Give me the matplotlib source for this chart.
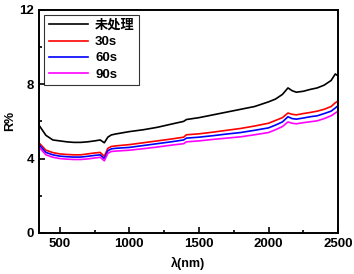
import matplotlib
matplotlib.use("Agg")
import matplotlib.pyplot as plt
from matplotlib.ticker import MultipleLocator

# wavelength (nm) and reflectance (%)
wl = [350, 400, 450, 500, 550, 600, 650, 700, 750, 790, 820, 845, 870, 900, 1000,
      1100, 1200, 1300, 1390, 1410, 1500, 1600, 1700, 1800, 1900, 2000, 2050,
      2100, 2140, 2170, 2200, 2250, 2300, 2350, 2400, 2450, 2480, 2500]
r_untreated = [5.8, 5.25, 5.0, 4.95, 4.9, 4.87, 4.87, 4.9, 4.95, 5.0, 4.85, 5.15, 5.27, 5.32, 5.45,
               5.55, 5.68, 5.85, 6.0, 6.1, 6.2, 6.35, 6.5, 6.65, 6.8, 7.05, 7.2,
               7.45, 7.8, 7.65, 7.57, 7.62, 7.72, 7.8, 7.95, 8.2, 8.55, 8.45]
r_30s = [4.85, 4.45, 4.32, 4.25, 4.22, 4.2, 4.2, 4.25, 4.3, 4.33, 4.12, 4.55, 4.65, 4.68, 4.75,
         4.85, 4.95, 5.05, 5.15, 5.28, 5.33, 5.42, 5.52, 5.62, 5.75, 5.9, 6.05,
         6.2, 6.45, 6.38, 6.35, 6.42, 6.48, 6.55, 6.65, 6.8, 7.0, 7.1]
r_60s = [4.75, 4.33, 4.2, 4.13, 4.1, 4.08, 4.08, 4.12, 4.17, 4.2, 4.0, 4.42, 4.52, 4.55, 4.6,
         4.7, 4.8, 4.9, 5.0, 5.1, 5.15, 5.23, 5.32, 5.4, 5.52, 5.65, 5.8,
         5.97, 6.25, 6.15, 6.12, 6.18, 6.25, 6.3, 6.42, 6.55, 6.72, 6.85]
r_90s = [4.62, 4.2, 4.07, 4.0, 3.97, 3.95, 3.95, 3.98, 4.03, 4.07, 3.88, 4.28, 4.38, 4.4, 4.45,
         4.53, 4.62, 4.72, 4.8, 4.9, 4.95, 5.03, 5.1, 5.17, 5.28, 5.4, 5.55,
         5.72, 5.97, 5.9, 5.87, 5.93, 5.98, 6.03, 6.15, 6.3, 6.45, 6.55]

labels = ["未处理", "30s", "60s", "90s"]
colors = ["black", "red", "blue", "magenta"]

plt.rcParams["font.family"] = ["Liberation Sans", "Noto Sans CJK SC"]
plt.rcParams["font.weight"] = "bold"

fig = plt.figure(figsize=(3.54, 2.74), dpi=100)
ax = fig.add_axes([0.110, 0.150, 0.845, 0.814])

for ys, lab, c in zip([r_untreated, r_30s, r_60s, r_90s], labels, colors):
    ax.plot(wl, ys, color=c, lw=1.2, label=lab)

ax.set_xlim(350, 2500)
ax.set_ylim(0, 12)
ax.xaxis.set_major_locator(MultipleLocator(500))
ax.xaxis.set_minor_locator(MultipleLocator(250))
ax.yaxis.set_major_locator(MultipleLocator(4))
ax.yaxis.set_minor_locator(MultipleLocator(2))
ax.tick_params(which="both", direction="in", labelsize=9.5, width=1.2)
ax.tick_params(which="major", length=4)
ax.tick_params(which="minor", length=2.5)
for s in ax.spines.values():
    s.set_linewidth(1.4)

ax.set_xlabel("λ(nm)", fontsize=9, fontweight="bold", labelpad=5)
ax.set_ylabel("R%", fontsize=9, fontweight="bold", labelpad=2)

leg = ax.legend(loc="upper left", fontsize=9.5, frameon=True, fancybox=False,
                handlelength=3.0, borderpad=0.35, labelspacing=0.3,
                handletextpad=0.5, borderaxespad=0.4)
leg.get_frame().set_edgecolor("black")
leg.get_frame().set_linewidth(0.8)

fig.savefig("out.png", dpi=100)
